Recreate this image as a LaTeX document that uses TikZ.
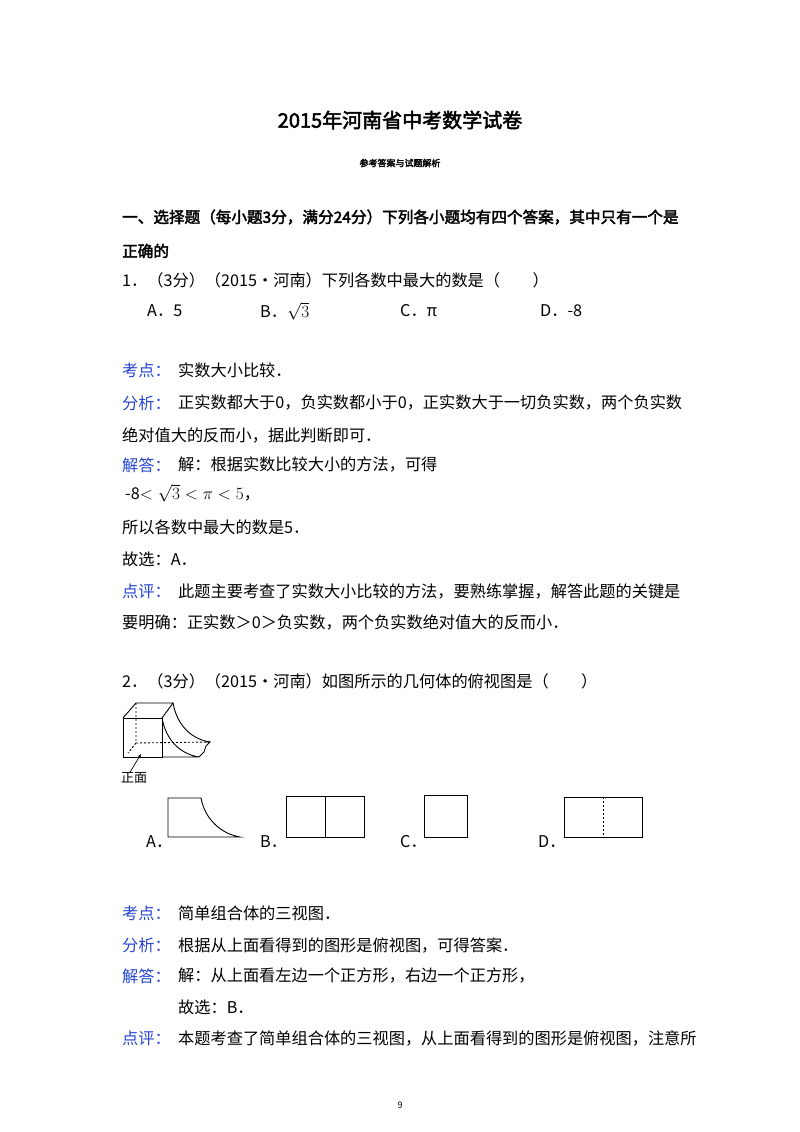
\documentclass[tikz,border=0pt]{standalone}
\usepackage{fontspec}
\setmainfont[AutoFakeBold=2.5]{Noto Sans CJK SC}
\usetikzlibrary{arrows.meta}
\definecolor{kblue}{RGB}{40,70,210}
\begin{document}
\begin{tikzpicture}[x=1pt,y=-1pt,
  txt/.style={anchor=west,inner sep=0pt,font=\fontsize{16.2}{17}\selectfont},
  lbl/.style={txt,text=kblue},
  hd/.style={txt,font=\fontsize{15.6}{17}\selectfont\bfseries},
  fig/.style={line width=0.9pt},
  dsh/.style={line width=0.9pt,dash pattern=on 2pt off 2pt}]
\useasboundingbox[fill=white] (0,0) rectangle (800,1132);
\node[inner sep=0pt,font=\fontsize{20}{22}\selectfont\bfseries] (title) at (400,120) {2015年河南省中考数学试卷};
\node[inner sep=0pt,font=\fontsize{9}{10}\selectfont\bfseries] (sub) at (400,163) {参考答案与试题解析};
\node[hd] (s1) at (122,217) {一、选择题（每小题3分，满分24分）下列各小题均有四个答案，其中只有一个是};
\node[hd] (s2) at (122,251) {正确的};
\node[txt] (q1) at (122,280) {1．（3分）（2015•河南）下列各数中最大的数是（\quad\quad）};
\node[txt] (o1a) at (147,311) {A．5};
\node[txt] (o1b) at (260,311) {B．$\sqrt{3}$};
\node[txt] (o1c) at (400,311) {C．π};
\node[txt] (o1d) at (540,311) {D．-8};
\node[lbl] (k1) at (122,370) {考点：};
\node[txt] (k1t) at (178,370) {实数大小比较．};
\node[lbl] (f1) at (122,403) {分析：};
\node[txt] (f1t) at (178,403) {正实数都大于0，负实数都小于0，正实数大于一切负实数，两个负实数};
\node[txt] (f1u) at (122,435) {绝对值大的反而小，据此判断即可．};
\node[lbl] (j1) at (122,465) {解答：};
\node[txt] (j1t) at (178,465) {解：根据实数比较大小的方法，可得};
\node[txt] (j1u) at (125,493) {-8$<\sqrt{3}<\pi<5$，};
\node[txt] (j1v) at (122,527) {所以各数中最大的数是5．};
\node[txt] (j1w) at (122,559) {故选：A．};
\node[lbl] (d1) at (122,591) {点评：};
\node[txt] (d1t) at (178,591) {此题主要考查了实数大小比较的方法，要熟练掌握，解答此题的关键是};
\node[txt] (d1u) at (122,622) {要明确：正实数＞0＞负实数，两个负实数绝对值大的反而小．};
\node[txt] (q2) at (122,681) {2．（3分）（2015•河南）如图所示的几何体的俯视图是（\quad\quad）};
% 3D solid
\draw[fig] (123,718) rectangle (162,757);
\draw[fig] (123,718) -- (136,703) -- (173,703) -- (162,718);
\draw[fig] (162,718) .. controls (166,740) and (180,754) .. (199,757) -- (162,757);
\draw[fig] (173,703) .. controls (177,725) and (191,739) .. (210,742);
\draw[fig] (199,757) -- (204,752) -- (206,746) -- (210,742) -- (206,742);
\draw[dsh] (136,703) -- (136,743) -- (210,742);
\draw[dsh] (136,743) -- (128,753);
\node[inner sep=0pt,font=\fontsize{13}{14}\selectfont] (zm) at (134,778) {正面};
\coordinate (zmt) at (141,754);
\draw[line width=0.7pt,-{Stealth[length=4pt]}] (zm.north) ++(-4,0) -- (zmt);
% options
\node[txt] (o2a) at (146,842) {A．};
\draw[fig] (168,837) -- (168,798) -- (201,798) .. controls (205,820) and (222,834) .. (240,837) -- cycle;
\node[txt] (o2b) at (260,842) {B．};
\draw[fig] (286,796) rectangle (364,837);
\draw[fig] (325,796) -- (325,837);
\node[txt] (o2c) at (400,842) {C．};
\draw[fig] (424,795) rectangle (467,837);
\node[txt] (o2d) at (538,842) {D．};
\draw[fig] (564,797) rectangle (642,837);
\draw[dsh] (603,797) -- (603,837);
\node[lbl] (k2) at (122,913) {考点：};
\node[txt] (k2t) at (178,913) {简单组合体的三视图．};
\node[lbl] (f2) at (122,945) {分析：};
\node[txt] (f2t) at (178,945) {根据从上面看得到的图形是俯视图，可得答案．};
\node[lbl] (j2) at (122,976) {解答：};
\node[txt] (j2t) at (178,976) {解：从上面看左边一个正方形，右边一个正方形，};
\node[txt] (j2u) at (178,1007) {故选：B．};
\node[lbl] (d2) at (122,1038) {点评：};
\node[txt] (d2t) at (178,1038) {本题考查了简单组合体的三视图，从上面看得到的图形是俯视图，注意所};
\node[inner sep=0pt,font=\fontsize{9}{10}\selectfont] (pg) at (400,1105) {9};
\end{tikzpicture}
\end{document}
